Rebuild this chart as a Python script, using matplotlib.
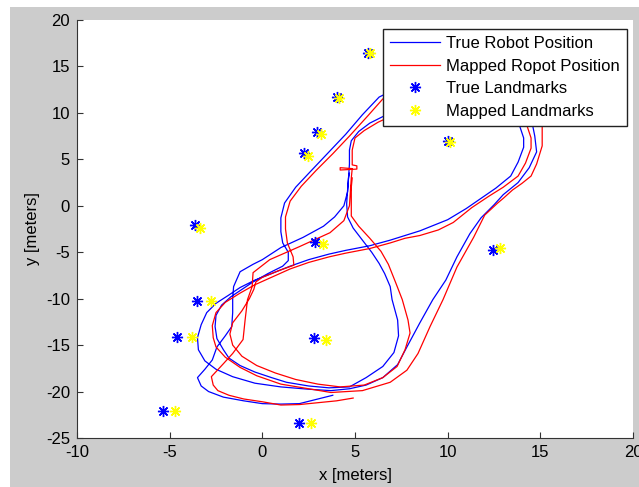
import matplotlib
matplotlib.use('Agg')
import matplotlib.pyplot as plt
from matplotlib.patches import Rectangle

plt.rcParams['font.family'] = ['Liberation Sans', 'DejaVu Sans']
plt.rcParams['axes.unicode_minus'] = False

# true robot path (x, y in meters)
true_x = [3.8, 3.0, 2.0, 1.0, 0.0, -1.0, -2.1, -2.9, -3.3, -3.5,
          -3.1, -2.7, -2.45, -2.0, -1.65, -1.6, -1.6, -1.55, -1.2, -0.5, 0.0, 1.0, 2.2, 3.3, 3.9, 4.4, 4.6, 4.65, 4.7, 4.7, 4.8, 5.2, 5.8, 6.5,
          7.5, 9.0, 10.8, 12.5, 13.5, 13.9,
          14.1, 14.1, 13.8, 13.4, 12.6, 11.8, 11.0, 10.0, 8.5, 6.9, 5.8, 4.5, 3.6, 2.5, 1.5, 0.5, -0.4, -1.2, -1.8, -2.5,
          -3.0, -3.3, -3.5, -3.45, -3.1, -2.5, -1.6, -0.4, 1.0, 2.5, 3.7, 4.7, 5.6,
          6.5, 7.3, 7.8, 8.5, 9.2, 9.9, 10.5, 11.2, 11.8, 12.5, 13.0, 13.8, 14.4, 14.8, 14.7, 14.6,
          14.3, 13.2, 11.5, 9.5, 7.8, 6.8, 6.3,
          5.4, 4.5, 3.5, 2.6, 1.8, 1.2, 1.0, 1.0, 1.1, 1.4, 1.4,
          1.1, 0.3, -0.5, -1.1, -1.7,
          -2.2, -2.5, -2.55, -2.45, -2.1, -1.8, -1.2, -0.4, 0.5, 1.3, 2.5, 3.6, 4.7,
          5.6, 6.5, 7.1, 7.35, 7.3, 7.0, 6.9, 6.6, 6.3, 5.9, 5.4, 4.9, 4.6, 4.55, 4.6, 4.65, 4.7]
true_y = [-20.4, -20.8, -21.3, -21.35, -21.3, -21.0, -20.6, -20.0, -19.4, -18.5,
          -17.6, -16.6, -15.2, -14.0, -13.0, -11.5, -10.0, -8.7, -7.1, -6.3, -5.8, -4.5, -3.4, -2.2, -1.2, 0.0, 1.5, 3.0, 4.5, 6.0, 7.0, 8.0, 8.9, 9.6,
          10.4, 11.0, 11.0, 10.3, 9.3, 8.5,
          7.3, 6.3, 4.7, 3.2, 1.9, 0.8, -0.3, -1.5, -2.7, -3.7, -4.3, -4.8, -5.2, -5.8, -6.5, -7.3, -8.0, -8.8, -9.6, -10.5,
          -11.5, -12.8, -14.2, -15.5, -16.7, -17.6, -18.4, -19.1, -19.5, -19.75, -19.9, -19.7, -19.3,
          -18.5, -17.1, -15.2, -12.6, -10.1, -8.0, -5.5, -3.0, -1.3, 0.1, 1.2, 2.5, 4.1, 5.8, 7.5, 8.5,
          10.0, 11.5, 12.6, 13.0, 12.8, 12.2, 11.7,
          9.8, 7.7, 5.6, 3.7, 2.0, 0.3, -1.3, -2.8, -4.0, -5.0, -5.9,
          -6.5, -7.3, -8.2, -9.0, -9.8,
          -10.7, -11.8, -13.0, -14.3, -15.5, -16.4, -17.2, -17.9, -18.5, -19.0, -19.4, -19.6, -19.5,
          -18.5, -17.3, -15.8, -14.0, -12.3, -10.1, -8.7, -7.3, -6.2, -5.0, -3.7, -2.4, -1.2, 0.2, 1.7, 3.0, 3.5]

# mapped (estimated) robot path
map_x = [4.9, 4.0, 3.0, 2.0, 1.0, 0.0, -1.0, -1.8, -2.4, -2.65, -2.75,
         -2.1, -1.6, -1.04, -0.93, -0.8, -0.55, -0.5, 0.4, 2.0, 3.65, 4.4, 4.7, 4.75, 4.8,
         4.85, 4.2, 4.2, 5.1, 5.1, 4.85, 4.85, 5.0, 5.5, 6.25, 7.0,
         8.0, 9.5, 11.2, 12.8, 13.9, 14.3,
         14.5, 14.5, 14.2, 13.8, 13.0, 12.2, 11.3, 10.3, 9.5, 8.5, 7.7, 6.9, 5.8, 4.5, 3.6, 2.5, 1.5, 0.5, -0.4, -1.2, -2.0,
         -2.5, -2.7, -2.65, -2.5, -2.0, -1.2, -0.3, 1.0, 2.5, 3.7, 5.4, 6.9,
         7.8, 8.4, 9.05, 9.75, 10.5, 11.4, 12.0, 12.7, 13.0, 13.5, 14.0, 14.5, 14.8, 15.1, 15.1,
         14.8, 13.6, 11.8, 9.8, 8.0, 7.0, 6.5,
         5.7, 4.7, 3.8, 2.9, 2.1, 1.5, 1.25, 1.25, 1.35, 1.66, 1.7,
         0.86, 0.0, -0.35, -0.46,
         -0.7, -1.1, -1.6, -1.75, -1.6, -1.1, -0.3, 0.7, 1.8, 3.0, 4.2, 5.5,
         6.5, 7.27, 7.7, 7.97, 7.86, 7.55, 7.2, 6.8, 6.4, 5.8, 5.2, 4.8, 4.8, 4.8, 4.85]
map_y = [-20.7, -21.0, -21.2, -21.4, -21.45, -21.1, -20.8, -20.4, -19.9, -19.3, -18.4,
         -17.0, -15.9, -14.4, -12.3, -10.1, -8.7, -7.2, -5.8, -4.4, -2.9, -1.6, 0.0, 1.5, 3.0,
         4.0, 4.1, 3.85, 3.95, 4.3, 4.4, 6.0, 7.3, 8.1, 9.0, 9.7,
         10.3, 10.8, 10.8, 10.1, 9.2, 8.5,
         7.3, 6.2, 4.6, 3.2, 2.0, 1.0, -0.2, -1.8, -2.6, -3.2, -3.5, -4.0, -4.6, -5.1, -5.5, -6.1, -6.8, -7.7, -8.5, -9.4, -10.4,
         -11.5, -12.9, -14.2, -15.2, -16.3, -17.4, -18.3, -19.2, -19.7, -20.1, -19.9, -19.0,
         -17.7, -15.9, -13.0, -10.1, -6.6, -3.4, -1.0, 0.3, 0.8, 1.7, 2.4, 3.2, 4.5, 6.45, 8.5,
         10.2, 11.6, 12.4, 12.8, 12.6, 12.0, 11.5,
         9.7, 7.5, 5.6, 3.8, 2.1, 0.5, -1.2, -2.5, -4.0, -5.5, -6.4,
         -7.0, -7.7, -8.2, -9.0,
         -10.0, -11.3, -12.6, -13.8, -15.0, -16.2, -17.2, -18.0, -18.7, -19.2, -19.5, -19.3,
         -18.5, -17.3, -15.5, -13.7, -12.3, -10.1, -8.3, -6.3, -4.9, -3.5, -2.2, -1.1, 0.7, 2.0, 3.0]

# landmarks
true_lm_x = [5.7, 4.05, 2.95, 2.25, 10.0, -3.65, 2.85, 12.45, -3.5, -4.6, 2.8, -5.35, 2.0]
true_lm_y = [16.4, 11.75, 7.9, 5.65, 7.0, -2.1, -3.9, -4.75, -10.25, -14.1, -14.25, -22.1, -23.4]
map_lm_x = [5.8, 4.15, 3.15, 2.45, 10.1, -3.35, 3.25, 12.8, -2.75, -3.8, 3.45, -4.7, 2.65]
map_lm_y = [16.4, 11.55, 7.7, 5.4, 6.9, -2.4, -4.1, -4.5, -10.3, -14.1, -14.4, -22.1, -23.4]

fig = plt.figure(figsize=(6.39, 4.87), dpi=100, facecolor='white')
fig.add_artist(Rectangle((10 / 639, 0), 1, 1 - 7 / 487, transform=fig.transFigure,
                         facecolor='#cccccc', edgecolor='none', zorder=-1))
ax = fig.add_axes([77 / 639, 1 - 438 / 487, 556 / 639, 418 / 487])

ax.plot(true_x, true_y, color='blue', lw=0.9, label='True Robot Position')
ax.plot(map_x, map_y, color='red', lw=0.9, label='Mapped Ropot Position')
star = (8, 2, 0)
ax.plot(true_lm_x, true_lm_y, ls='none', marker=star, ms=8, mew=1.0, color='blue', label='True Landmarks')
ax.plot(map_lm_x, map_lm_y, ls='none', marker=star, ms=8, mew=1.0, color='yellow', label='Mapped Landmarks')

ax.set_xlim(-10, 20)
ax.set_ylim(-25, 20)
ax.set_xticks(range(-10, 21, 5))
ax.set_yticks(range(-25, 21, 5))
ax.spines['top'].set_visible(False)
ax.spines['right'].set_visible(False)
for s in ['left', 'bottom']:
    ax.spines[s].set_color('#333333')
ax.tick_params(direction='in', length=4, width=0.8, color='#333333', labelsize=12, pad=5)
ax.set_xlabel('x [meters]', fontsize=12, labelpad=6)
ax.set_ylabel('y [meters]', fontsize=12, labelpad=4)

leg = ax.legend(loc='upper right', bbox_to_anchor=(627 / 639, 1 - 29 / 487), bbox_transform=fig.transFigure,
                fontsize=12, fancybox=False, framealpha=1, edgecolor='#222222',
                handlelength=3.0, handletextpad=0.36, labelspacing=0.46, borderpad=0.42,
                borderaxespad=0, numpoints=1)
leg.get_frame().set_linewidth(1.0)

fig.savefig('out.png', dpi=100, facecolor=fig.get_facecolor())
